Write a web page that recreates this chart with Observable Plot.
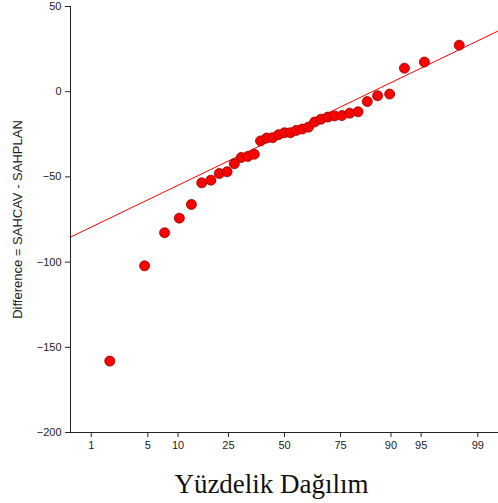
<!DOCTYPE html>
<html>
<head>
<meta charset="utf-8">
<script src="https://cdn.jsdelivr.net/npm/d3@7"></script>
<script src="https://cdn.jsdelivr.net/npm/@observablehq/plot@0.6"></script>
<style>
  html, body { margin: 0; padding: 0; background: white; }
</style>
</head>
<body>
<div id="chart"></div>
<script>
// Sorted differences (SAHCAV - SAHPLAN)
const differences = [
  -158.1, -102.2, -82.8, -74.2, -66.2, -53.5, -51.9, -48.0, -47.0, -42.3,
  -38.6, -38.0, -36.7, -28.9, -27.2, -27.0, -25.2, -24.1, -24.1, -22.7,
  -21.9, -20.8, -17.8, -16.1, -14.9, -14.2, -14.0, -12.6, -11.8, -5.8,
  -2.4, -1.4, 13.8, 17.4, 27.3
];
// Percentile tick labels on the probability axis
const tickPercents = [1, 5, 10, 25, 50, 75, 90, 95, 99];
const yTicks = [-200, -150, -100, -50, 0, 50];
// Axis extent in percent
const percentRange = [0.5, 99.5];
// Reference (fitted) normal line: value = intercept + slope * z
const lineIntercept = -24.8;
const lineSlope = 23.5;
const yLabel = "Difference = SAHCAV - SAHPLAN";
const xLabel = "Yüzdelik Dağılım";

// Inverse standard normal CDF (Acklam's approximation)
function probit(p) {
  const a = [-3.969683028665376e+01, 2.209460984245205e+02, -2.759285104469687e+02, 1.383577518672690e+02, -3.066479806614716e+01, 2.506628277459239e+00];
  const b = [-5.447609879822406e+01, 1.615858368580409e+02, -1.556989798598866e+02, 6.680131188771972e+01, -1.328068155288572e+01];
  const c = [-7.784894002430293e-03, -3.223964580411365e-01, -2.400758277161838e+00, -2.549732539343734e+00, 4.374664141464968e+00, 2.938163982698783e+00];
  const d = [7.784695709041462e-03, 3.224671290700398e-01, 2.445134137142996e+00, 3.754408661907416e+00];
  const pl = 0.02425, ph = 1 - pl;
  let q, r;
  if (p < pl) {
    q = Math.sqrt(-2 * Math.log(p));
    return (((((c[0]*q+c[1])*q+c[2])*q+c[3])*q+c[4])*q+c[5]) / ((((d[0]*q+d[1])*q+d[2])*q+d[3])*q+1);
  } else if (p <= ph) {
    q = p - 0.5; r = q * q;
    return (((((a[0]*r+a[1])*r+a[2])*r+a[3])*r+a[4])*r+a[5])*q / (((((b[0]*r+b[1])*r+b[2])*r+b[3])*r+b[4])*r+1);
  } else {
    q = Math.sqrt(-2 * Math.log(1 - p));
    return -(((((c[0]*q+c[1])*q+c[2])*q+c[3])*q+c[4])*q+c[5]) / ((((d[0]*q+d[1])*q+d[2])*q+d[3])*q+1);
  }
}

const n = differences.length;
// Blom plotting positions
const points = differences.map((v, i) => ({ z: probit((i + 1 - 0.375) / (n + 0.25)), v }));
const zDomain = percentRange.map(p => probit(p / 100));
const lineData = zDomain.map(z => ({ z, v: lineIntercept + lineSlope * z }));

const chart = Plot.plot({
  width: 498,
  height: 503,
  marginLeft: 70,
  marginRight: 0,
  marginTop: 6,
  marginBottom: 71,
  style: { fontFamily: "'Liberation Sans', Arial, sans-serif", fontSize: "11px", background: "white", color: "#222" },
  x: { domain: zDomain },
  y: { domain: [-200, 50] },
  marks: [
    Plot.line(lineData, { x: "z", y: "v", stroke: "#ff0000", strokeWidth: 1, clip: true }),
    Plot.dot(points, { x: "z", y: "v", r: 5, fill: "#ff0000", stroke: "#8a0000", strokeWidth: 0.8 }),
    Plot.axisY({ ticks: yTicks, tickSize: 5, tickPadding: 4, label: null }),
    Plot.axisX({
      ticks: tickPercents.map(p => probit(p / 100)),
      tickFormat: (d, i) => String(tickPercents[i]),
      tickSize: 5, tickPadding: 4, label: null
    }),
    Plot.ruleY([-200], { stroke: "#222" }),
    Plot.ruleX([zDomain[0]], { stroke: "#222" }),
    Plot.text([yLabel], {
      frameAnchor: "left", rotate: -90, dx: -52.5, lineAnchor: "middle", textAnchor: "middle",
      fontSize: 13, fill: "#222"
    }),
    Plot.text([xLabel], {
      frameAnchor: "bottom", lineAnchor: "bottom", dy: 60, dx: -13,
      fontSize: 27, fontFamily: "'Liberation Serif', 'Times New Roman', serif", fill: "#111"
    })
  ]
});
document.getElementById("chart").appendChild(chart);
</script>
</body>
</html>
